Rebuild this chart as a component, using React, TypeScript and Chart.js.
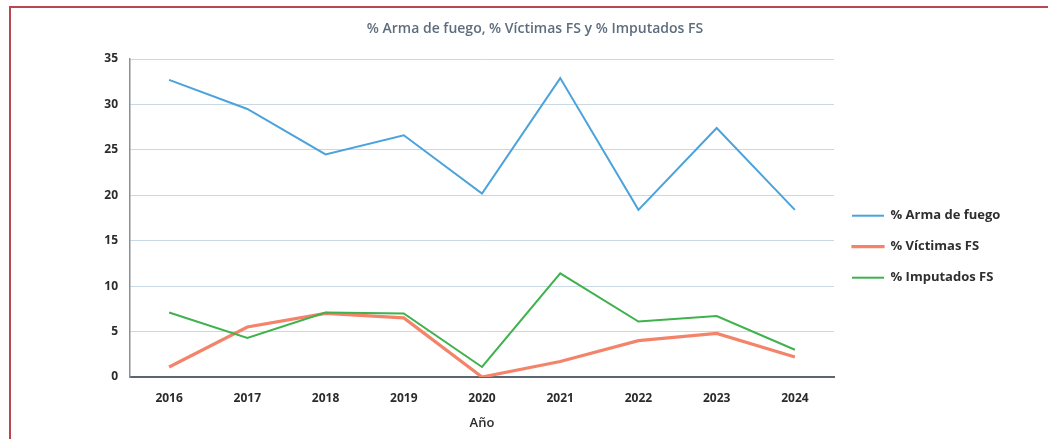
import { useEffect, useRef } from 'react';
import { Chart, registerables } from 'chart.js';

Chart.register(...registerables);

const years = ['2016', '2017', '2018', '2019', '2020', '2021', '2022', '2023', '2024'];
const armaFuego = [32.7, 29.5, 24.5, 26.6, 20.2, 32.9, 18.4, 27.4, 18.4];
const victimasFS = [1.1, 5.5, 7.0, 6.5, 0.0, 1.7, 4.0, 4.8, 2.2];
const imputadosFS = [7.1, 4.3, 7.1, 7.0, 1.1, 11.4, 6.1, 6.7, 3.0];
const seriesLabels = ['% Arma de fuego', '% Víctimas FS', '% Imputados FS'];
const seriesColors = ['#4ba3dc', '#f3846a', '#3fb24d'];
const seriesWidths = [2, 3.2, 2];
const chartTitle = '% Arma de fuego, % Víctimas FS y % Imputados FS';
const xAxisTitle = 'Año';
const yMin = 0;
const yMax = 35;
const yStep = 5;

const FONT = "'Open Sans', 'Noto Sans', sans-serif";
const NBSP_PAD = '\u00A0'.repeat(24);

export default function App() {
  const canvasRef = useRef<HTMLCanvasElement | null>(null);

  useEffect(() => {
    const canvas = canvasRef.current;
    if (!canvas) return;
    const seriesData = [armaFuego, victimasFS, imputadosFS];
    const orders = [1, 3, 2];
    const chart = new Chart(canvas, {
      type: 'line',
      data: {
        labels: years,
        datasets: seriesData.map((d, i) => ({
          label: seriesLabels[i],
          data: d,
          borderColor: seriesColors[i],
          backgroundColor: seriesColors[i],
          borderWidth: seriesWidths[i],
          pointRadius: 0,
          pointHoverRadius: 0,
          tension: 0,
          fill: false,
          order: orders[i],
        })),
      },
      options: {
        responsive: false,
        maintainAspectRatio: false,
        animation: false,
        events: [],
        layout: { padding: { left: 52, right: 30, top: 0, bottom: 0 } },
        plugins: {
          tooltip: { enabled: false },
          title: {
            display: true,
            text: chartTitle,
            color: '#5d6d7e',
            font: { family: FONT, size: 14, weight: '600' },
            padding: { top: 20.6, bottom: 21.6 },
          },
          legend: {
            display: true,
            position: 'right',
            fullSize: false,
            maxWidth: 184,
            align: 'center',
            title: {
              display: true,
              text: '',
              font: { family: FONT, size: 12 },
              padding: { top: 0, bottom: 43 },
            },
            labels: {
              boxWidth: 32,
              boxHeight: 2,
              padding: 18,
              color: '#2f2f2f',
              font: { family: FONT, size: 13, weight: 'bold' },
              sort: (a: any, b: any) => a.datasetIndex - b.datasetIndex,
              generateLabels: (ch: any) => {
                const items = Chart.defaults.plugins.legend.labels.generateLabels(ch);
                return items.map((it: any) => {
                  const di = it.datasetIndex;
                  return {
                    ...it,
                    text: seriesLabels[di] + NBSP_PAD,
                    fillStyle: seriesColors[di],
                    strokeStyle: seriesColors[di],
                    lineWidth: di === 1 ? 1.2 : 0,
                  };
                });
              },
            },
          },
        },
        scales: {
          x: {
            offset: true,
            grid: { display: false, drawTicks: false },
            border: { display: true, color: '#5a6773', width: 2 },
            ticks: {
              color: '#2b2b2b',
              padding: 14,
              font: { family: FONT, size: 12, weight: 'bold' },
              maxRotation: 0,
            },
            title: {
              display: true,
              text: xAxisTitle,
              color: '#2b2b2b',
              font: { family: FONT, size: 13, weight: '600' },
              padding: { top: 0, bottom: 8 },
            },
            afterFit: (s: any) => {
              s.height = 62;
            },
          },
          y: {
            min: yMin,
            max: yMax,
            grid: { color: '#c8d8e4', lineWidth: 1, drawTicks: false },
            border: { display: true, color: '#8a9096', width: 1.5 },
            ticks: {
              stepSize: yStep,
              color: '#2b2b2b',
              padding: 12,
              font: { family: FONT, size: 12, weight: 'bold' },
            },
            afterFit: (s: any) => {
              s.width = 78;
            },
          },
        },
      },
    });
    return () => chart.destroy();
  }, []);

  return (
    <div
      style={{
        position: 'fixed',
        left: 0,
        top: 0,
        width: 1048,
        height: 439,
        background: '#ffffff',
        overflow: 'hidden',
      }}
    >
      <div
        style={{
          position: 'absolute',
          left: 10,
          top: 6,
          right: 0,
          height: 2,
          background: '#b8474f',
        }}
      />
      <div
        style={{
          position: 'absolute',
          left: 9,
          top: 6,
          bottom: 0,
          width: 2,
          background: '#b8474f',
        }}
      />
      <canvas
        ref={canvasRef}
        width={1048}
        height={439}
        style={{ position: 'absolute', left: 0, top: 0, width: 1048, height: 439 }}
      />
    </div>
  );
}
